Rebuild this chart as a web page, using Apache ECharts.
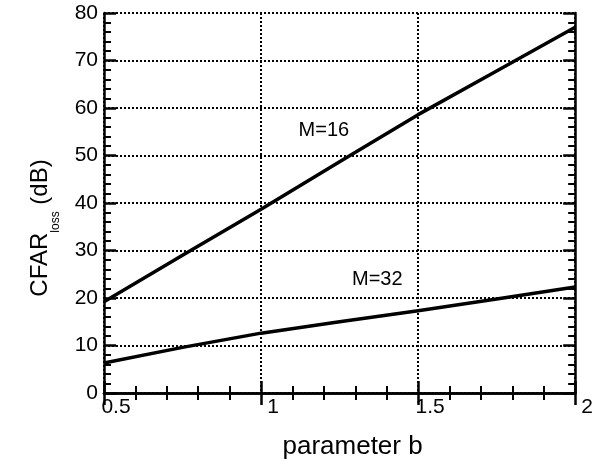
<!DOCTYPE html>
<html>
<head>
<meta charset="utf-8">
<script src="https://cdn.jsdelivr.net/npm/echarts@6/dist/echarts.min.js"></script>
<style>
  html, body { margin: 0; padding: 0; background: #fff; }
  #chart { width: 596px; height: 467px; }
</style>
</head>
<body>
<div id="chart"></div>
<script>
// parameter b samples
const paramB = [0.5, 0.75, 1.0, 1.25, 1.5, 1.75, 2.0]
// CFAR loss (dB)
const lossM16 = [19.2, 29.0, 38.7, 48.7, 58.6, 67.8, 77.0]
const lossM32 = [6.3, 9.6, 12.6, 15.0, 17.3, 19.8, 22.3]
// curve annotations
const noteText = ['M=16', 'M=32']
const noteX = [1.2, 1.37]
const noteY = [55.2, 23.8]

const font = '"Liberation Sans", Arial, Helvetica, sans-serif'

const chart = echarts.init(document.getElementById('chart'))

const pairs = (xs, ys) => xs.map((x, i) => [x, ys[i]])

const tickStyle = { show: true, inside: true, length: 12, lineStyle: { color: '#000', width: 2.5 } }
const minorStyle = { show: true, splitNumber: 5, length: 7, lineStyle: { color: '#000', width: 2 } }
const lineAxis = { show: true, lineStyle: { color: '#000', width: 2.5 } }

chart.setOption({
  backgroundColor: '#fff',
  animation: false,
  grid: { left: 104, right: 18, top: 13, bottom: 74 },
  xAxis: [{
    type: 'value',
    min: 0.5,
    max: 2,
    interval: 0.5,
    name: 'parameter b',
    nameLocation: 'middle',
    nameGap: 41,
    nameTextStyle: { fontFamily: font, fontSize: 26, color: '#000', padding: [0, 0, 0, 26] },
    axisLine: lineAxis,
    axisTick: tickStyle,
    minorTick: minorStyle,
    axisLabel: {
      fontFamily: font,
      fontSize: 21,
      color: '#000',
      margin: 4,
      padding: [0, 0, 0, 24],
      showMinLabel: true,
      showMaxLabel: true,
      formatter: v => String(v)
    },
    splitLine: { show: true, lineStyle: { color: '#000', width: 2, type: [2, 2] } }
  }, {
    type: 'value',
    position: 'top',
    min: 0.5,
    max: 2,
    interval: 0.5,
    axisLine: lineAxis,
    axisTick: tickStyle,
    minorTick: minorStyle,
    axisLabel: { show: false },
    splitLine: { show: false }
  }],
  yAxis: [{
    type: 'value',
    min: 0,
    max: 80,
    interval: 10,
    name: 'CFAR{sub|loss} {m|(dB)}',
    nameLocation: 'middle',
    nameRotate: 90,
    nameGap: 64,
    nameTextStyle: {
      fontFamily: font,
      fontSize: 24,
      color: '#000',
      lineHeight: 44,
      verticalAlign: 'middle',
      padding: [0, 50, 0, 0],
      rich: {
        sub: { fontFamily: font, fontSize: 12, color: '#000', lineHeight: 16, verticalAlign: 'bottom' },
        m: { fontFamily: font, fontSize: 24, color: '#000', lineHeight: 44, verticalAlign: 'middle' }
      }
    },
    axisLine: lineAxis,
    axisTick: tickStyle,
    minorTick: minorStyle,
    axisLabel: { fontFamily: font, fontSize: 21, color: '#000', margin: 6 },
    splitLine: { show: true, lineStyle: { color: '#000', width: 2, type: [2, 2] } }
  }, {
    type: 'value',
    position: 'right',
    min: 0,
    max: 80,
    interval: 10,
    axisLine: lineAxis,
    axisTick: tickStyle,
    minorTick: minorStyle,
    axisLabel: { show: false },
    splitLine: { show: false }
  }],
  series: [{
    name: 'M=16',
    type: 'line',
    showSymbol: false,
    lineStyle: { color: '#000', width: 3.5 },
    data: pairs(paramB, lossM16)
  }, {
    name: 'M=32',
    type: 'line',
    showSymbol: false,
    lineStyle: { color: '#000', width: 3.5 },
    data: pairs(paramB, lossM32)
  }, {
    type: 'scatter',
    symbolSize: 0,
    itemStyle: { opacity: 1 },
    label: {
      show: true,
      position: 'inside',
      fontFamily: font,
      fontSize: 20,
      color: '#000',
      opacity: 1,
      formatter: p => noteText[p.dataIndex]
    },
    data: pairs(noteX, noteY)
  }]
})
</script>
</body>
</html>
